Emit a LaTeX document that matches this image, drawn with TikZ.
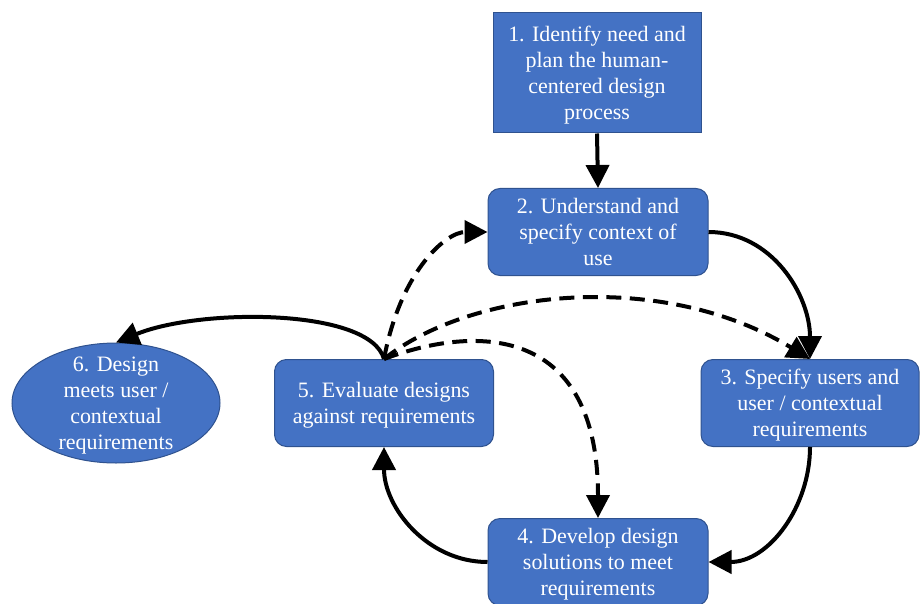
\documentclass[tikz,border=0pt]{standalone}
\usepackage{fontspec}
\setmainfont{Liberation Serif}
\usetikzlibrary{arrows.meta,shapes.geometric}
\definecolor{boxfill}{HTML}{4472C4}
\definecolor{boxline}{HTML}{2F528F}
\tikzset{
  stepbox/.style={rectangle, rounded corners=0.24cm, fill=boxfill, draw=boxline,
    line width=0.02cm, text=white, align=center, inner sep=0pt,
    minimum width=4.4cm, minimum height=1.74cm, text depth=0pt,
    font=\fontsize{12.5}{14.8}\selectfont},
  startbox/.style={stepbox, sharp corners, minimum width=4.16cm, minimum height=2.4cm},
  endoval/.style={ellipse, fill=boxfill, draw=boxline, line width=0.02cm,
    minimum width=4.16cm, minimum height=2.4cm, inner sep=0pt},
  ovaltext/.style={text=white, align=center, inner sep=0pt, text depth=0pt,
    font=\fontsize{12.5}{14.8}\selectfont},
  flow/.style={line width=0.08cm, -{Triangle[length=0.46cm,width=0.46cm]}},
  dashflow/.style={flow, dash pattern=on 0.3cm off 0.17cm}
}
\begin{document}
\begin{tikzpicture}
                        \useasboundingbox (0,0) rectangle (18.4,12.06);

                        % Steps of the process
                        \node [startbox] (n1) at (11.94,10.60) {1. Identify need and\\plan the human-\\centered design\\process};%
                        \node [stepbox] (n2) at (11.96,7.42) {2. Understand and\\specify context of\\use};%
                        \node [stepbox, minimum width=4.36cm] (n3) at (16.20,4.00) {3. Specify users and\\user / contextual\\requirements};%
                        \node [stepbox] (n4) at (11.96,0.82) {4. Develop design\\solutions to meet\\requirements};%
                        \node [stepbox, minimum width=4.38cm] (n5) at (7.68,4.00) {5. Evaluate designs\\against requirements};%

                        % Final state as an ellipse
                        \node [endoval] (n6) at (2.32,4.00) {};%
                        \node [ovaltext] (n6t) at (n6.center) {6. Design\\meets user /\\contextual\\requirements};%

                        % Solid arrows of the cycle
                        \draw [flow] (n1.south) -- (n2.north);%
                        \draw [flow] (n2.east) to [out=0,in=90] (n3.north);%
                        \draw [flow] (n3.south) to [out=-90,in=0] (n4.east);%
                        \draw [flow] (n4.west) to [out=180,in=-90] (n5.south);%
                        \draw [flow] (n5.north) .. controls (7.4,5.9) and (4.0,5.9) .. (n6.north);%

                        % Dashed arrows back from evaluation
                        \draw [dashflow] (n5.north) .. controls (8.0,6.6) and (8.9,7.42) .. (n2.west);%
                        \draw [dashflow] (n5.north) .. controls (9.4,6.25) and (13.2,6.7) .. (n3.north);%
                        \draw [dashflow] (n5.north) .. controls (9.6,5.6) and (11.96,5.5) .. (n4.north);%
                    \end{tikzpicture}
\end{document}
